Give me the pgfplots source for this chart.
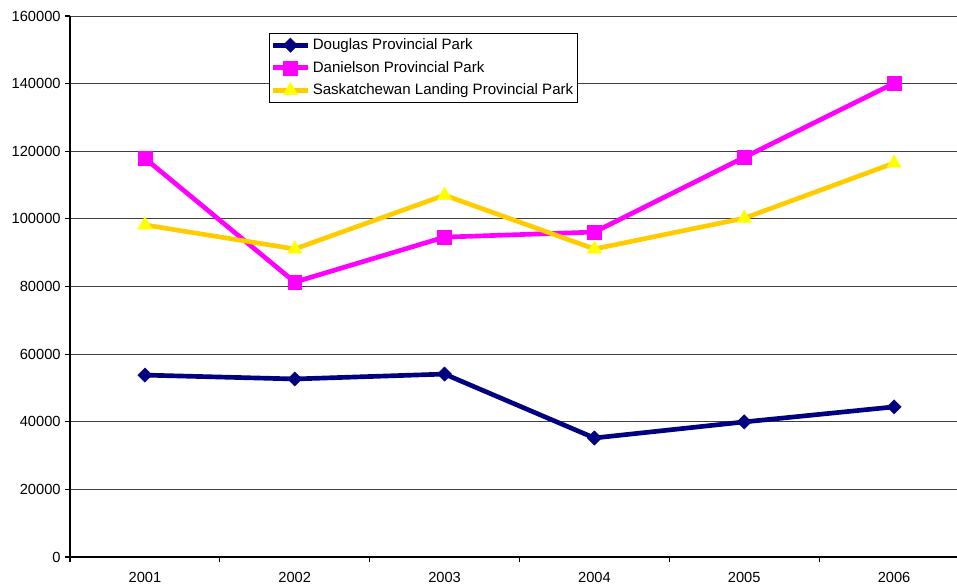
\documentclass[border=0pt]{standalone}
\usepackage{fontspec}
\setmainfont{Liberation Sans}
\usepackage{pgfplots}
\pgfplotsset{compat=1.18}
\definecolor{navyc}{RGB}{0,0,128}
\definecolor{magc}{RGB}{255,0,255}
\definecolor{goldc}{RGB}{255,204,0}
\definecolor{yelc}{RGB}{255,255,0}
\begin{document}
\begin{tikzpicture}
\begin{axis}[
  at={(0,0)}, anchor=south west,
  scale only axis,
  width=665.25pt, height=405.75pt,
  xmin=-0.5, xmax=5.42,
  ymin=0, ymax=160000,
  axis x line*=bottom, axis y line*=left,
  axis line style={black, line width=0.8pt},
  xtick={0,1,2,3,4,5},
  xticklabels={2001,2002,2003,2004,2005,2006},
  major x tick style={draw=none},
  minor xtick={-0.5,0.5,1.5,2.5,3.5,4.5},
  minor x tick style={black, line width=0.8pt},
  minor tick length=3.5pt,
  xtick align=outside, ytick align=outside,
  ytick={0,20000,40000,60000,80000,100000,120000,140000,160000},
  yticklabels={0,20000,40000,60000,80000,100000,120000,140000,160000},
  scaled y ticks=false,
  major tick length=3.5pt,
  y tick style={black, line width=0.8pt},
  ymajorgrids,
  grid style={black!75, line width=0.7pt},
  tick label style={font=\fontsize{11}{13}\selectfont},
  xticklabel style={yshift=-4.5pt},
  clip=false,
  legend style={at={(0.2244,0.9686)}, anchor=north west, draw=black, line width=0.6pt,
    font=\fontsize{11.3}{13}\selectfont, row sep=3.3pt, inner xsep=1pt, inner ysep=2pt},
  legend cell align=left,
  legend image code/.code={
    \draw[#1] (0pt,0pt) -- (26pt,0pt);
    \draw[#1, only marks] plot coordinates {(13pt,0pt)};
  },
]
\addplot[navyc, line width=3.5pt, mark=square*, mark size=3.8pt,
  mark options={solid, rotate=45, fill=navyc, draw=navyc, line width=0.3pt}]
  coordinates {(0,53800) (1,52650) (2,54100) (3,35200) (4,39950) (5,44400)};
\addlegendentry{Douglas Provincial Park\hspace{7pt}}
\addplot[magc, line width=3.5pt, mark=square*, mark size=5.2pt,
  mark options={solid, fill=magc, draw=magc, line width=0.3pt}]
  coordinates {(0,117900) (1,81300) (2,94600) (3,96100) (4,118200) (5,140100)};
\addlegendentry{Danielson Provincial Park}
\addplot[goldc, line width=3.5pt, mark=triangle*, mark size=6.2pt,
  mark options={solid, fill=yelc, draw=yelc, line width=0.3pt}]
  coordinates {(0,98200) (1,91100) (2,107000) (3,91100) (4,100200) (5,116500)};
\addlegendentry{Saskatchewan Landing Provincial Park\hspace{7pt}}
\end{axis}
\pgfresetboundingbox
\path[use as bounding box] (-52.5pt,-21.75pt) rectangle (665.25pt,417.75pt);
\end{tikzpicture}
\end{document}
